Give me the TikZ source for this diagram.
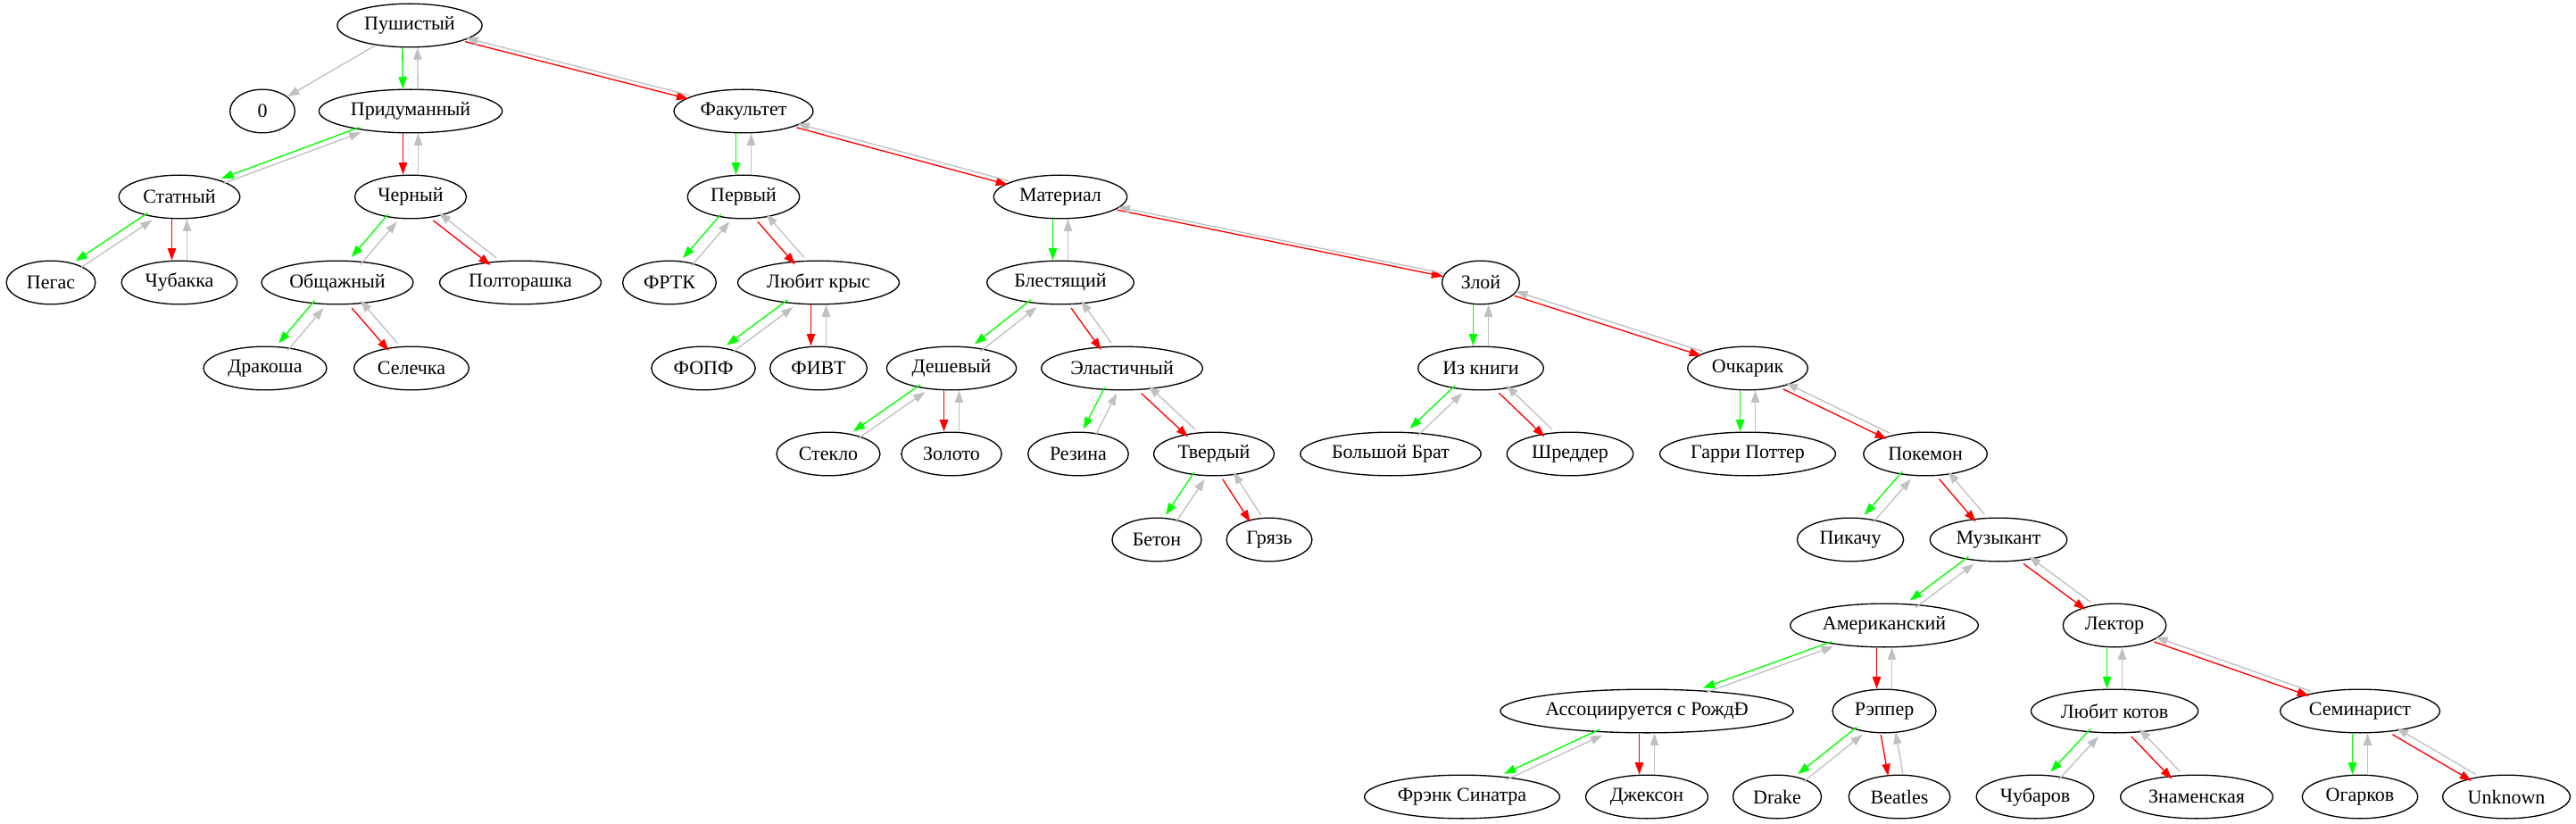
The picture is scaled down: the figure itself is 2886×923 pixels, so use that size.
\documentclass[tikz,border=0pt]{standalone}
\usepackage{fontspec}
\setmainfont{Liberation Serif}
\usepackage{tikz}
\usetikzlibrary{shapes.geometric,arrows.meta,calc}

\definecolor{backgray}{RGB}{192,192,192}

\begin{document}
\fontsize{16.5}{19}\selectfont
\begin{tikzpicture}[x=0.75pt,y=-0.75pt,
    vert/.style={draw, ellipse, line width=1pt, inner sep=0pt,
                 minimum height=36.5pt,
                 minimum width={max(54.5,1.32*(width("#1")+16))},
                 node contents={#1}},
    edge/.style={line width=1pt, -{Triangle[length=10pt,width=7pt]}}]

    \useasboundingbox (0,0) rectangle (2886,923);

    % rank 0
    \node (pushisty) at (459,28.5) [vert=Пушистый];
    % rank 1
    \node (zero) at (294,124.5) [vert=0];
    \node (pridum) at (460,124.5) [vert=Придуманный];
    \node (fakult) at (833,124.5) [vert=Факультет];
    % rank 2
    \node (statny) at (201,220.5) [vert=Статный];
    \node (cherny) at (460,220.5) [vert=Черный];
    \node (pervy) at (833,220.5) [vert=Первый];
    \node (material) at (1188,220.5) [vert=Материал];
    % rank 3
    \node (pegas) at (57,316.5) [vert=Пегас];
    \node (chubakka) at (201,316.5) [vert=Чубакка];
    \node (obshag) at (378,316.5) [vert=Общажный];
    \node (poltor) at (583,316.5) [vert=Полторашка];
    \node (frtk) at (750,316.5) [vert=ФРТК];
    \node (krys) at (917,316.5) [vert=Любит крыс];
    \node (blest) at (1188,316.5) [vert=Блестящий];
    \node (zloy) at (1659,316.5) [vert=Злой];
    % rank 4
    \node (drakosha) at (297,412.5) [vert=Дракоша];
    \node (selechka) at (461,412.5) [vert=Селечка];
    \node (fopf) at (788,412.5) [vert=ФОПФ];
    \node (fivt) at (917,412.5) [vert=ФИВТ];
    \node (deshevy) at (1066,412.5) [vert=Дешевый];
    \node (elast) at (1257,412.5) [vert=Эластичный];
    \node (izknigi) at (1659,412.5) [vert=Из книги];
    \node (ochkarik) at (1958,412.5) [vert=Очкарик];
    % rank 5
    \node (steklo) at (928,508.5) [vert=Стекло];
    \node (zoloto) at (1066,508.5) [vert=Золото];
    \node (rezina) at (1208,508.5) [vert=Резина];
    \node (tverdy) at (1360,508.5) [vert=Твердый];
    \node (bigbro) at (1558,508.5) [vert=Большой Брат];
    \node (shredder) at (1759,508.5) [vert=Шреддер];
    \node (potter) at (1958,508.5) [vert=Гарри Поттер];
    \node (pokemon) at (2157,508.5) [vert=Покемон];
    % rank 6
    \node (beton) at (1296,604.5) [vert=Бетон];
    \node (gryaz) at (1422,604.5) [vert=Грязь];
    \node (pikachu) at (2073,604.5) [vert=Пикачу];
    \node (muzykant) at (2239,604.5) [vert=Музыкант];
    % rank 7
    \node (amer) at (2111,700.5) [vert=Американский];
    \node (lektor) at (2369,700.5) [vert=Лектор];
    % rank 8
    \node (assoc) at (1845,796.5) [vert=Ассоциируется с РождÐ];
    \node (repper) at (2111,796.5) [vert=Рэппер];
    \node (kotov) at (2369,796.5) [vert=Любит котов];
    \node (seminar) at (2644,796.5) [vert=Семинарист];
    % rank 9
    \node (sinatra) at (1638,892.5) [vert=Фрэнк Синатра];
    \node (jackson) at (1845,892.5) [vert=Джексон];
    \node (drake) at (1991,892.5) [vert=Drake];
    \node (beatles) at (2128,892.5) [vert=Beatles];
    \node (chubarov) at (2280,892.5) [vert=Чубаров];
    \node (znamen) at (2461,892.5) [vert=Знаменская];
    \node (ogarkov) at (2644,892.5) [vert=Огарков];
    \node (unknown) at (2808,892.5) [vert=Unknown];

    \path[draw, edge, backgray] (pushisty) -- (zero);

    % parent -> child in colour, child -> parent in gray,
    % both moved sideways by the same horizontal gap
    \foreach \p/\c/\col in {pushisty/pridum/green, pushisty/fakult/red,
        pridum/statny/green, pridum/cherny/red,
        statny/pegas/green, statny/chubakka/red,
        cherny/obshag/green, cherny/poltor/red,
        obshag/drakosha/green, obshag/selechka/red,
        fakult/pervy/green, fakult/material/red,
        pervy/frtk/green, pervy/krys/red,
        krys/fopf/green, krys/fivt/red,
        material/blest/green, material/zloy/red,
        blest/deshevy/green, blest/elast/red,
        deshevy/steklo/green, deshevy/zoloto/red,
        elast/rezina/green, elast/tverdy/red,
        tverdy/beton/green, tverdy/gryaz/red,
        zloy/izknigi/green, zloy/ochkarik/red,
        izknigi/bigbro/green, izknigi/shredder/red,
        ochkarik/potter/green, ochkarik/pokemon/red,
        pokemon/pikachu/green, pokemon/muzykant/red,
        muzykant/amer/green, muzykant/lektor/red,
        amer/assoc/green, amer/repper/red,
        assoc/sinatra/green, assoc/jackson/red,
        repper/drake/green, repper/beatles/red,
        lektor/kotov/green, lektor/seminar/red,
        kotov/chubarov/green, kotov/znamen/red,
        seminar/ogarkov/green, seminar/unknown/red} {
        \coordinate (gap) at ($(\p)+(-8.5,0)$);
        \coordinate (gapfoot) at ($(\p)!(gap)!(\c)$);
        \path[draw, edge, \col, transform canvas={shift={($(gap)-(gapfoot)$)}}] (\p) -- (\c);
        \path[draw, edge, backgray, transform canvas={shift={($(gapfoot)-(gap)$)}}] (\c) -- (\p);
    }

\end{tikzpicture}
\end{document}
